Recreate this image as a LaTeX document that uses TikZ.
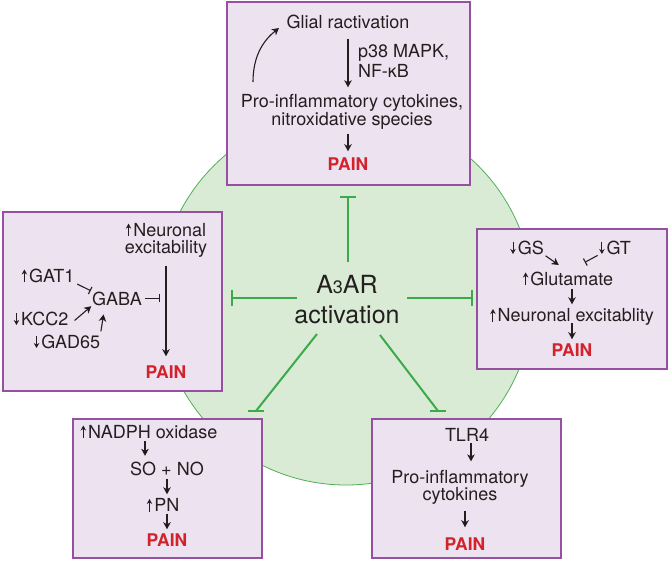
\documentclass[tikz,border=0pt]{standalone}
\usepackage{fontspec}
\setmainfont{TeX Gyre Heros}
\usetikzlibrary{arrows.meta,calc}
\definecolor{boxfill}{RGB}{237,226,240}
\definecolor{boxline}{RGB}{150,80,160}
\definecolor{circfill}{RGB}{218,235,213}
\definecolor{circline}{RGB}{80,175,85}
\definecolor{inhgreen}{RGB}{60,170,75}
\definecolor{painred}{RGB}{210,35,45}
\definecolor{txt}{RGB}{35,31,32}
\newcommand{\upa}{\tikz[baseline=0pt]\draw[txt,line width=1pt,-{Stealth[length=5pt,width=5.5pt]}](0pt,0pt)--(0pt,12.5pt);\hspace{2pt}}
\newcommand{\dna}{\tikz[baseline=0pt]\draw[txt,line width=1pt,-{Stealth[length=5pt,width=5.5pt]}](0pt,12.5pt)--(0pt,0pt);\hspace{2pt}}
\begin{document}
\begin{tikzpicture}[x=1pt,y=-1pt,
  every node/.style={inner sep=0pt, text=txt, font=\fontsize{18}{17.5}\selectfont},
  box/.style={draw=boxline, fill=boxfill, line width=1.6pt, rectangle},
  arr/.style={draw=txt, line width=1.1pt, -{Stealth[length=7pt,width=7.5pt,inset=2pt]}},
  inh/.style={draw=txt, line width=1.1pt, -{Bar[width=8pt,line width=1.1pt]}},
  gline/.style={draw=inhgreen, line width=2pt},
  gbar/.style={draw=inhgreen, line width=2pt, -{Bar[width=16pt,line width=2pt]}},
  pain/.style={text=painred, font=\fontsize{17.5}{17.5}\selectfont\bfseries}]
\useasboundingbox (0,0) rectangle (669,562);
\fill[white] (0,0) rectangle (669,562);
\draw[fill=circfill, draw=circline, line width=0.8pt] (346,298) circle[radius=187];

% boxes
\node[box, minimum width=243pt, minimum height=183pt] (bT) at (348.5,93.5) {};
\node[box, minimum width=219pt, minimum height=179pt] (bL) at (112.5,301.5) {};
\node[box, minimum width=190pt, minimum height=140pt] (bR) at (572,299) {};
\node[box, minimum width=189pt, minimum height=139pt] (bBL) at (167.5,488.5) {};
\node[box, minimum width=189pt, minimum height=139pt] (bBR) at (466.5,488.5) {};

% centre
\node[align=center, font=\fontsize{25}{30}\selectfont] (act) at (347,300) {A{\fontsize{18}{18}\selectfont 3}AR\\activation};
\coordinate (sT) at (348,262);
\coordinate (sL) at (297,298);
\coordinate (sR) at (407,298);
\coordinate (sBL) at (317,334);
\coordinate (sBR) at (380,335);
\coordinate (eBL) at ($(bBL.north east)+(-7,-7)$);
\coordinate (eBR) at ($(bBR.north west)+(67,-7)$);
\draw[gbar, shorten >=10pt] (sT) -- (sT |- bT.south);
\draw[gbar, shorten >=8pt] (sL) -- (sL -| bL.east);
\draw[gbar, shorten >=3pt] (sR) -- (sR -| bR.west);
\draw[gline] (sBL) -- (eBL);
\draw[gline] ($(eBL)+(-8,0)$) -- ($(eBL)+(8,0)$);
\draw[gline] (sBR) -- (eBR);
\draw[gline] ($(eBR)+(-8,0)$) -- ($(eBR)+(8,0)$);

% top box
\node[anchor=base] (g1) at (348,28.5) {Glial ractivation};
\node[anchor=west, align=left] (p38) at (358,61.3) {p38 MAPK,\\[2.7pt]NF-κB};
\node[align=center] (pro) at (352,111.8) {Pro-inflammatory cytokines,\\nitroxidative species};
\node[pain, anchor=base] (pain1) at (348,170) {PAIN};
\coordinate (cv1) at (253,82);
\coordinate (cv2) at (279,28);
\draw[arr] (cv1) .. controls (253,55) and (264,40) .. (cv2);
\draw[arr, shorten <=9.5pt, shorten >=7pt] (g1.south) -- (g1.south |- pro.north);
\draw[arr, shorten <=4.3pt, shorten >=5.8pt] (pro.south -| pain1.north) -- (pain1.north);

% left box
\node[align=center] (ne) at (166,240.3) {\upa Neuronal\\excitability};
\node[anchor=base] (gaba) at (117,305) {GABA};
\node[anchor=base] (gat1) at (48,282) {\upa GAT1};
\node[anchor=base] (kcc2) at (41,325) {\dna KCC2};
\node[anchor=base] (gad65) at (67,348) {\dna GAD65};
\node[pain, anchor=base] (painL) at (166,378) {PAIN};
\draw[arr, shorten <=7.8pt, shorten >=8.8pt] (ne.south) -- (painL.north);
\draw[inh, shorten <=3pt] (gaba.east) -- ($(gaba.east -| ne.south)+(-6,0)$);
\draw[inh, shorten <=3pt, shorten >=1.5pt] (gat1.south east) -- (gaba.north west);
\draw[arr, shorten <=8pt, shorten >=1pt] (kcc2.south east) -- (gaba.south west);
\draw[arr, shorten <=3pt, shorten >=9pt] (gad65.north east) -- ($(gaba.south)+(-12,0)$);

% right box
\node[anchor=base] (gs) at (527,254) {\dna GS};
\node[anchor=base] (gt) at (615,254) {\dna GT};
\node[anchor=base] (glu) at (568,285) {\upa Glutamate};
\node[anchor=base] (nex) at (572,321.5) {\upa Neuronal excitablity};
\node[pain, anchor=base] (painR) at (572,356) {PAIN};
\draw[arr, shorten <=2pt, shorten >=11.2pt] (gs.south east) -- (glu.north);
\draw[inh, shorten <=1.5pt, shorten >=19.1pt] (gt.south west) -- (glu.north);
\draw[arr, shorten <=3pt, shorten >=3.9pt] (glu.south -| nex.north) -- (nex.north);
\draw[arr, shorten <=1.5pt, shorten >=3.8pt] (nex.base) -- (painR.north);

% bottom-left box
\node[anchor=base] (nadph) at (149,438) {\upa NADPH oxidase};
\node[anchor=base] (sono) at (167,475) {SO + NO};
\node[anchor=base] (pn) at (163,511.5) {\upa PN};
\node[pain, anchor=base] (painBL) at (167,546.5) {PAIN};
\draw[arr] ($(nadph.base)+(-4,3)$) -- ($(nadph.base |- sono.north)+(-4,-5.5)$);
\draw[arr, shorten <=3pt, shorten >=3.9pt] (sono.south) -- (sono.south |- pn.north);
\draw[arr, shorten <=1.5pt, shorten >=4.3pt] (pn.south -| painBL.north) -- (painBL.north);

% bottom-right box
\node[anchor=base] (tlr) at (467,441.5) {TLR4};
\node[align=center] (pic) at (460,487.6) {Pro-inflammatory\\cytokines};
\node[pain, anchor=base] (painBR) at (465,550) {PAIN};
\draw[arr] ($(tlr.base)+(4,1.5)$) -- ($(tlr.base |- pic.north)+(4,-8.7)$);
\draw[arr, shorten <=5.5pt, shorten >=9.8pt] (pic.south -| painBR.north) -- (painBR.north);
\end{tikzpicture}
\end{document}
